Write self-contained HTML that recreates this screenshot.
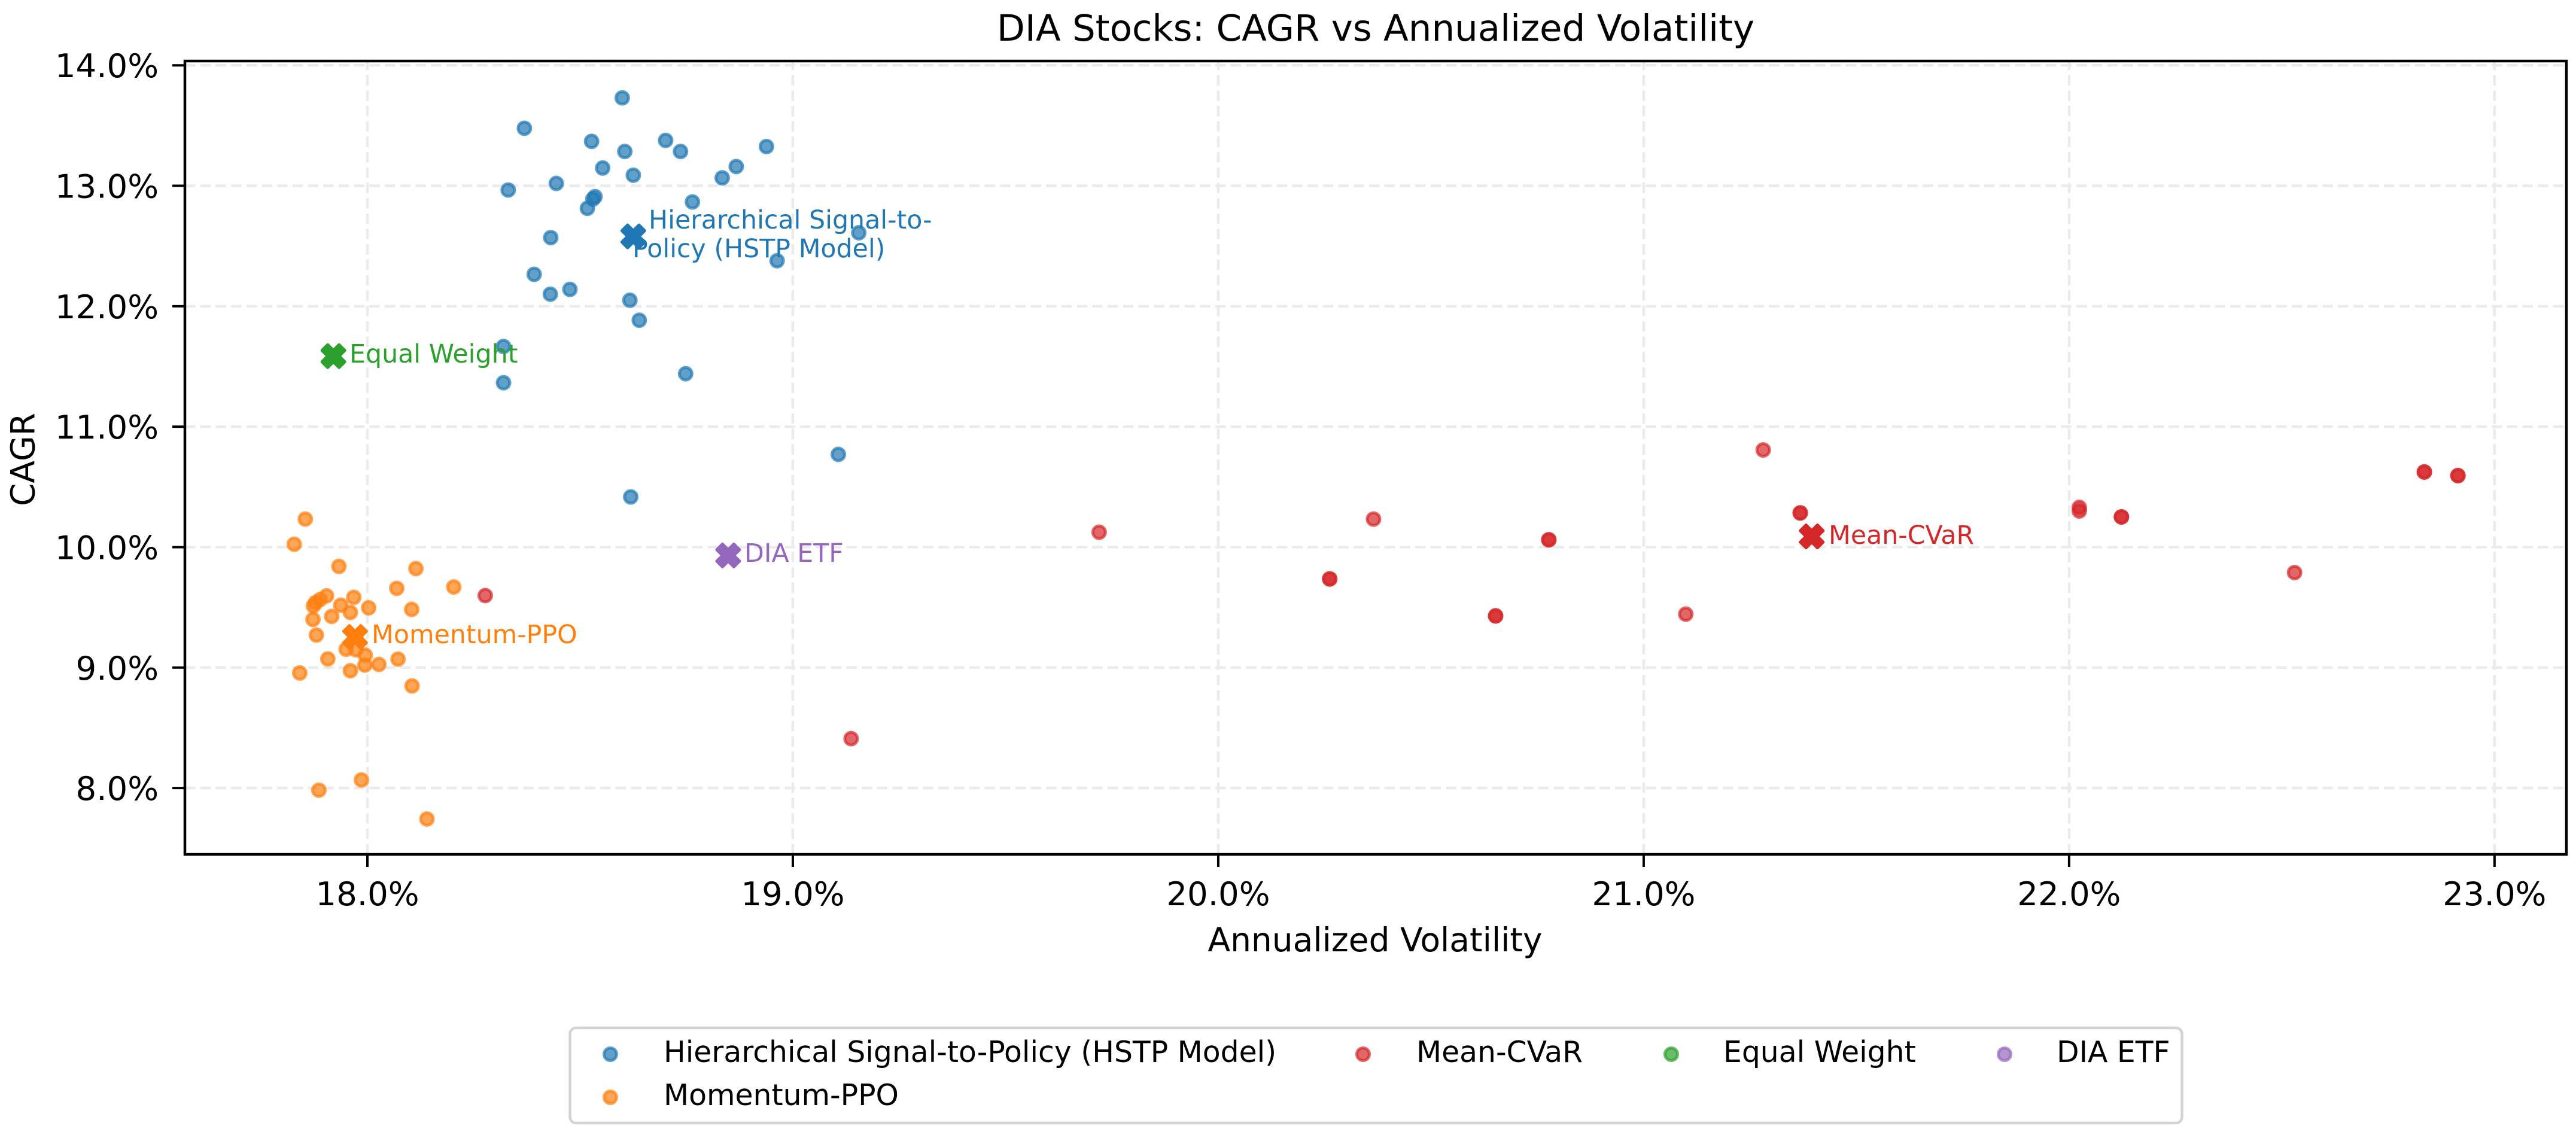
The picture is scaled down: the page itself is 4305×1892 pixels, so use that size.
<!DOCTYPE html>
<html lang="en">
<head>
<meta charset="utf-8">
<title>DIA Stocks: CAGR vs Annualized Volatility</title>
<style>
html,body{margin:0;padding:0;background:#fff;}
svg{display:block;}
text{font-family:"DejaVu Sans","Liberation Sans",sans-serif;}
</style>
</head>
<body>
<svg id="chart" xmlns="http://www.w3.org/2000/svg" width="4305" height="1892" viewBox="0 0 4305 1892">
  <rect x="0" y="0" width="4305" height="1892" fill="#ffffff"/>
  <g id="grid"></g>
  <g id="points"></g>
  <g id="summary"></g>
  <g id="labels"></g>
  <g id="axes"></g>
  <text x="2299" y="68" font-size="61" text-anchor="middle" fill="#000">DIA Stocks: CAGR vs Annualized Volatility</text>
  <text x="2298" y="1590" font-size="55" text-anchor="middle" fill="#000">Annualized Volatility</text>
  <text transform="translate(57.5 768) rotate(-90)" font-size="55" text-anchor="middle" fill="#000">CAGR</text>
  <g id="legend"></g>
</svg>
<script>
const xTicks = [18, 19, 20, 21, 22, 23];
const yTicks = [8, 9, 10, 11, 12, 13, 14];
const xTickLabels = ['18.0%', '19.0%', '20.0%', '21.0%', '22.0%', '23.0%'];
const yTickLabels = ['8.0%', '9.0%', '10.0%', '11.0%', '12.0%', '13.0%', '14.0%'];
const xDomain = [17.571, 23.169];
const yDomain = [7.449, 14.036];

const hstpVol = [18.599,18.369,18.527,18.701,18.736,18.605,18.938,18.867,18.834,18.553,18.625,18.444,18.331,18.535,18.53,18.517,18.764,18.431,19.155,18.963,18.392,18.43,18.476,18.617,18.639,18.32,18.32,18.748,19.107,18.619];
const hstpCagr = [13.73,13.478,13.369,13.377,13.285,13.285,13.326,13.16,13.066,13.148,13.088,13.02,12.965,12.91,12.89,12.813,12.866,12.57,12.61,12.378,12.265,12.10,12.14,12.05,11.884,11.666,11.365,11.44,10.77,10.417];

const ppoVol = [17.854,17.828,17.933,18.114,18.069,18.203,17.968,17.904,17.889,17.878,17.873,17.9375,18.003,18.104,17.96,17.916,17.872,17.88,17.95,17.973,17.995,17.907,18.072,17.994,18.027,17.96,17.841,18.105,17.986,17.886,18.14];
const ppoCagr = [10.233,10.024,9.84,9.822,9.658,9.669,9.583,9.596,9.565,9.54,9.512,9.518,9.496,9.483,9.458,9.425,9.40,9.27,9.152,9.148,9.103,9.072,9.07,9.021,9.026,8.974,8.955,8.848,8.067,7.982,7.743];

const cvarVol = [18.277,19.137,19.72,20.365,20.777,20.777,20.262,20.262,20.652,20.652,21.099,21.281,21.368,21.368,22.024,22.024,22.123,22.123,22.53,22.835,22.835,22.914,22.914];
const cvarCagr = [9.598,8.41,10.124,10.233,10.061,10.061,9.736,9.736,9.429,9.429,9.444,10.807,10.284,10.284,10.33,10.30,10.251,10.251,9.789,10.624,10.624,10.594,10.594];

const portfolioNames = ['Hierarchical Signal-to-Policy (HSTP Model)', 'Momentum-PPO', 'Mean-CVaR', 'Equal Weight', 'DIA ETF'];
const portfolioVol = [18.625, 17.971, 21.395, 17.92, 18.848];
const portfolioCagr = [12.58, 9.254, 10.089, 11.586, 9.931];

const NS = 'http://www.w3.org/2000/svg';
const plot = { left: 309, right: 4289, top: 102, bottom: 1428 };

function xScale(v) {
  return plot.left + (v - xDomain[0]) / (xDomain[1] - xDomain[0]) * (plot.right - plot.left);
}
function yScale(v) {
  return plot.bottom - (v - yDomain[0]) / (yDomain[1] - yDomain[0]) * (plot.bottom - plot.top);
}
function make(tag, attrs, parent, txt) {
  const el = document.createElementNS(NS, tag);
  for (const k in attrs) el.setAttribute(k, attrs[k]);
  if (txt !== undefined) el.textContent = txt;
  parent.appendChild(el);
  return el;
}

const gridG = document.getElementById('grid');
const pointsG = document.getElementById('points');
const summaryG = document.getElementById('summary');
const labelsG = document.getElementById('labels');
const axesG = document.getElementById('axes');
const legendG = document.getElementById('legend');
const gridStyle = { stroke: '#ebebeb', 'stroke-width': 4.5, 'stroke-dasharray': '17.5 8.2' };

xTicks.forEach(function (t, i) {
  const x = xScale(t);
  const g = make('line', Object.assign({ x1: x, x2: x, y1: plot.bottom, y2: plot.top }, gridStyle), gridG);
  
  
  const tick = make('line', { x1: x, x2: x, y1: plot.bottom, y2: plot.bottom + 21, stroke: '#000', 'stroke-width': 4 }, axesG);
  
  
  const label = make('text', { x: x, y: 1513, 'font-size': 54.5, 'text-anchor': 'middle', fill: '#000' }, axesG, xTickLabels[i]);
  
  
});

yTicks.forEach(function (t, i) {
  const y = yScale(t);
  const g = make('line', Object.assign({ x1: plot.left, x2: plot.right, y1: y, y2: y }, gridStyle), gridG);
  
  
  const tick = make('line', { x1: plot.left - 21, x2: plot.left, y1: y, y2: y, stroke: '#000', 'stroke-width': 4 }, axesG);
  
  
  const label = make('text', { x: 265, y: y + 20, 'font-size': 54.5, 'text-anchor': 'end', fill: '#000' }, axesG, yTickLabels[i]);
  
  
});

const frame = make('rect', { x: plot.left, y: plot.top, width: plot.right - plot.left, height: plot.bottom - plot.top, fill: 'none', stroke: '#000', 'stroke-width': 4.5 }, axesG);



function drawDot(parent, cx, cy, color) {
  return make('circle', { cx: cx, cy: cy, r: 10.5, fill: color, 'fill-opacity': 0.7, stroke: color, 'stroke-opacity': 0.7, 'stroke-width': 5 }, parent);
}

hstpVol.forEach(function (v, i) {
  const c = drawDot(pointsG, xScale(v), yScale(hstpCagr[i]), '#1f77b4');
  
  
});
ppoVol.forEach(function (v, i) {
  const c = drawDot(pointsG, xScale(v), yScale(ppoCagr[i]), '#ff7f0e');
  
  
});
cvarVol.forEach(function (v, i) {
  const c = drawDot(pointsG, xScale(v), yScale(cvarCagr[i]), '#d62728');
  
  
});

const markerColors = ['#1f77b4', '#ff7f0e', '#d62728', '#2ca02c', '#9467bd'];
const markerShape = [[-1,-2],[0,-1],[1,-2],[2,-1],[1,0],[2,1],[1,2],[0,1],[-1,2],[-2,1],[-1,0],[-2,-1]];
const markerUnit = 9.5;

portfolioVol.forEach(function (v, i) {
  const cx = xScale(v);
  const cy = yScale(portfolioCagr[i]);
  const pts = markerShape.map(function (p) { return (cx + p[0] * markerUnit) + ',' + (cy + p[1] * markerUnit); }).join(' ');
  const m = make('polygon', { points: pts, fill: markerColors[i], stroke: markerColors[i], 'stroke-width': 5, 'stroke-linejoin': 'round' }, summaryG);
  
  
});

function drawLabel(text, x, y, color) {
  const t = make('text', { x: x, y: y, 'font-size': 42.7, fill: color }, labelsG, text);
  
  
}
drawLabel('Hierarchical Signal-to-', 1084, 382, markerColors[0]);
drawLabel('Policy (HSTP Model)', 1057, 430, markerColors[0]);
drawLabel('Momentum-PPO', 621, 1075, markerColors[1]);
drawLabel('Mean-CVaR', 3056, 909, markerColors[2]);
drawLabel('Equal Weight', 584, 606, markerColors[3]);
drawLabel('DIA ETF', 1244, 939, markerColors[4]);

const legendBox = make('rect', { x: 952.5, y: 1718, width: 2694, height: 159, rx: 10, ry: 10, fill: '#fff', stroke: '#d4d4d4', 'stroke-width': 4.5 }, legendG);



function drawLegendEntry(index, dotX, textX, rowY) {
  const d = drawDot(legendG, dotX, rowY, markerColors[index]);
  
  
  const t = make('text', { x: textX, y: rowY + 13, 'font-size': 48.8, fill: '#000' }, legendG, portfolioNames[index]);
  
  
}
drawLegendEntry(0, 1020, 1109, 1762);
drawLegendEntry(1, 1020, 1109, 1834);
drawLegendEntry(2, 2278, 2367, 1762);
drawLegendEntry(3, 2793, 2880, 1762);
drawLegendEntry(4, 3350, 3437, 1762);
</script>
</body>
</html>
